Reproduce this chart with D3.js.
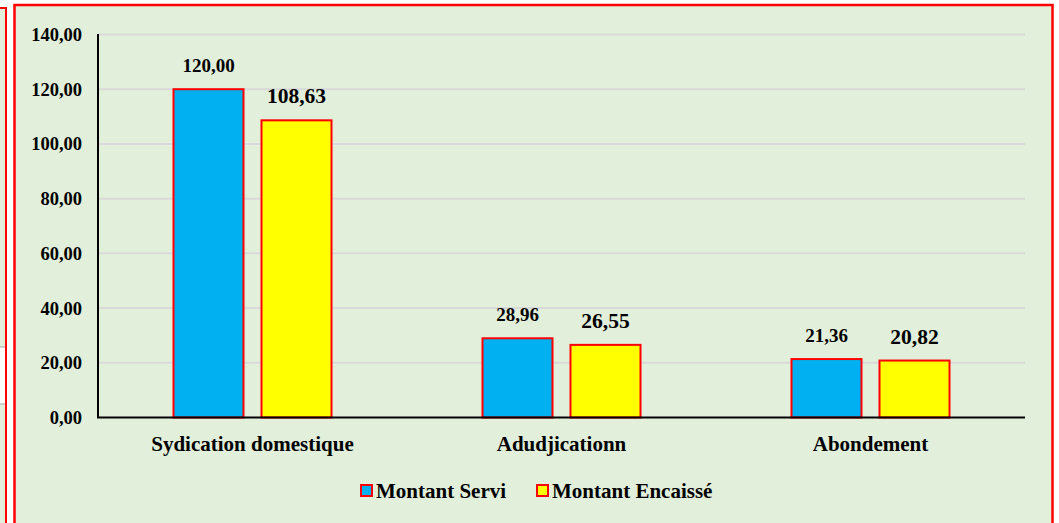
<!DOCTYPE html>
<html>
<head>
<meta charset="utf-8">
<script src="https://cdn.jsdelivr.net/npm/d3@7"></script>
<style>
  body { margin: 0; background: #fff; }
  svg text { font-family: "Liberation Serif", "Times New Roman", serif; font-weight: bold; fill: #000; }
</style>
</head>
<body>
<div id="vis"></div>
<script>
// chart data
const categories = ["Sydication domestique", "Adudjicationn", "Abondement"];
const seriesNames = ["Montant Servi", "Montant Encaissé"];
const montantServi = [120.00, 28.96, 21.36];
const montantEncaisse = [108.63, 26.55, 20.82];
const yTicks = [0, 20, 40, 60, 80, 100, 120, 140];

const seriesColors = ["#00B0F0", "#FFFF00"];
const labelSizes = [19, 21.5];

const width = 1059, height = 523;
const bg = "#E2EFDA";

const svg = d3.select("#vis").append("svg")
    .attr("width", width)
    .attr("height", height);

// bit of the neighbouring chart on the left
svg.append("rect")
    .attr("x", -10).attr("y", 8)
    .attr("width", 16).attr("height", 530)
    .attr("fill", bg)
    .attr("stroke", "#FF0000")
    .attr("stroke-width", 2);
svg.append("rect")
    .attr("x", 0).attr("y", 347)
    .attr("width", 5).attr("height", 57)
    .attr("fill", "#fff");
[347, 404].forEach(y => {
    svg.append("line")
        .attr("x1", 0).attr("x2", 5).attr("y1", y).attr("y2", y)
        .attr("stroke", "#BFBFBF").attr("stroke-width", 1.5);
});

// chart frame
svg.append("rect")
    .attr("x", 14.5).attr("y", 5)
    .attr("width", 1038).attr("height", 530)
    .attr("fill", bg)
    .attr("stroke", "#FF0000")
    .attr("stroke-width", 2.5);

// scales
const x = d3.scaleBand()
    .domain(categories)
    .range([98, 1025]);

const groupW = 158;
const xInner = d3.scaleBand()
    .domain(seriesNames)
    .range([(x.bandwidth() - groupW) / 2, (x.bandwidth() + groupW) / 2])
    .paddingInner(18 / 88);

const y = d3.scaleLinear()
    .domain([0, 140])
    .range([417.5, 34.5]);

const fmt = v => d3.format(".2f")(v).replace(".", ",");

// gridlines
svg.append("g")
    .selectAll("line")
    .data(yTicks.filter(d => d > 0))
    .enter()
    .append("line")
    .attr("x1", 98).attr("x2", 1025)
    .attr("y1", d => y(d)).attr("y2", d => y(d))
    .attr("stroke", "#D9D9D9")
    .attr("stroke-width", 2);

// y tick labels
svg.append("g")
    .selectAll("text")
    .data(yTicks)
    .enter()
    .append("text")
    .attr("x", 82)
    .attr("y", d => y(d))
    .attr("dy", "0.35em")
    .attr("text-anchor", "end")
    .style("font-size", "18.5px")
    .text(d => fmt(d));

// bars
const data = categories.map((c, i) => ({
    cat: c,
    vals: [montantServi[i], montantEncaisse[i]]
}));

const groups = svg.append("g")
    .selectAll("g")
    .data(data)
    .enter()
    .append("g")
    .attr("transform", d => `translate(${x(d.cat)},0)`);

groups.selectAll("rect")
    .data(d => d.vals.map((v, j) => ({ v: v, s: seriesNames[j], j: j })))
    .enter()
    .append("rect")
    .attr("x", d => xInner(d.s))
    .attr("y", d => y(d.v))
    .attr("width", xInner.bandwidth())
    .attr("height", d => y(0) - y(d.v))
    .attr("fill", d => seriesColors[d.j])
    .attr("stroke", "#FF0000")
    .attr("stroke-width", 2);

groups.selectAll("text")
    .data(d => d.vals.map((v, j) => ({ v: v, s: seriesNames[j], j: j })))
    .enter()
    .append("text")
    .attr("x", d => xInner(d.s) + xInner.bandwidth() / 2)
    .attr("y", d => y(d.v) - 17)
    .attr("text-anchor", "middle")
    .style("font-size", d => labelSizes[d.j] + "px")
    .text(d => fmt(d.v));

// axes lines
svg.append("line")
    .attr("x1", 98).attr("x2", 98)
    .attr("y1", 34).attr("y2", y(0))
    .attr("stroke", "#000").attr("stroke-width", 2);
svg.append("line")
    .attr("x1", 97).attr("x2", 1025)
    .attr("y1", y(0)).attr("y2", y(0))
    .attr("stroke", "#000").attr("stroke-width", 2);

// category labels
svg.append("g")
    .selectAll("text")
    .data(categories)
    .enter()
    .append("text")
    .attr("x", d => x(d) + x.bandwidth() / 2)
    .attr("y", 451)
    .attr("text-anchor", "middle")
    .style("font-size", "21px")
    .text(d => d);

// legend
const legendX = [361, 537];
const legend = svg.append("g")
    .selectAll("g")
    .data(seriesNames)
    .enter()
    .append("g")
    .attr("transform", (d, i) => `translate(${legendX[i]},485)`);

legend.append("rect")
    .attr("width", 11).attr("height", 11)
    .attr("fill", (d, i) => seriesColors[i])
    .attr("stroke", "#FF0000")
    .attr("stroke-width", 2);

legend.append("text")
    .attr("x", 15)
    .attr("y", 13)
    .style("font-size", "21px")
    .text(d => d);
</script>
</body>
</html>
